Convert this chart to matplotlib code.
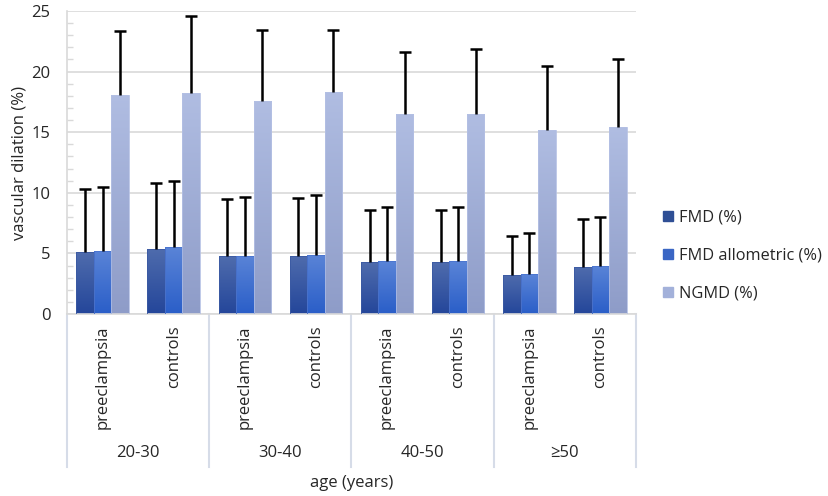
import numpy as np
import matplotlib
matplotlib.use("Agg")
import matplotlib.pyplot as plt
from matplotlib.colors import LinearSegmentedColormap
from matplotlib.transforms import blended_transform_factory
from matplotlib.patches import Patch

plt.rcParams['font.family'] = ['Open Sans', 'DejaVu Sans']

groups = ["20-30", "30-40", "40-50", "\u226550"]
subcats = ["preeclampsia", "controls"]
series = ["FMD (%)", "FMD allometric (%)", "NGMD (%)"]

fmd = [5.1, 5.4, 4.75, 4.8, 4.25, 4.25, 3.25, 3.9]
fmd_err = [5.2, 5.4, 4.7, 4.8, 4.35, 4.35, 3.2, 3.95]
fmd_allo = [5.2, 5.5, 4.8, 4.9, 4.35, 4.35, 3.3, 4.0]
fmd_allo_err = [5.3, 5.5, 4.85, 4.95, 4.5, 4.5, 3.35, 4.0]
ngmd = [18.1, 18.2, 17.6, 18.3, 16.5, 16.5, 15.2, 15.45]
ngmd_err = [5.25, 6.4, 5.8, 5.1, 5.15, 5.4, 5.3, 5.55]

values = [fmd, fmd_allo, ngmd]
errors = [fmd_err, fmd_allo_err, ngmd_err]
grad = [("#24469a", "#4f6cad"), ("#2a5ec8", "#5a84d7"), ("#8e9cc8", "#b0bde2")]
legend_cols = ["#2f4f95", "#3a66c4", "#a3b1da"]
edge_cols = ["#3b5aa3", "#4a74d0", "#b4c0e4"]

fig = plt.figure(figsize=(8.29, 4.96), dpi=100)
ax = fig.add_axes([67/829, 1-314/496, (636-67)/829, (314-11)/496])

n = len(fmd)
x = np.arange(n)
w = 0.246
txt = "#262626"
gridc = "#d9d9d9"

for i, (vals, errs) in enumerate(zip(values, errors)):
    pos = x + (i - 1) * w
    vals = np.array(vals)
    errs = np.array(errs)
    bars = ax.bar(pos, vals, width=w, facecolor="none", edgecolor=edge_cols[i],
                  linewidth=0.6, zorder=3, label=series[i])
    cmap = LinearSegmentedColormap.from_list("g%d" % i, [grad[i][0], grad[i][1]])
    g = np.linspace(0, 1, 256).reshape(-1, 1)
    for b in bars:
        x0, y0 = b.get_x(), b.get_y()
        im = ax.imshow(g, extent=[x0, x0 + b.get_width(), y0, y0 + b.get_height()],
                       origin="lower", cmap=cmap, aspect="auto", zorder=2.5,
                       interpolation="bilinear")
        im.set_clip_path(b)
    ax.vlines(pos, vals, vals + errs, color="black", linewidth=1.8, zorder=4)
    ax.plot(pos, vals + errs, linestyle="none", marker="_", markersize=8,
            markeredgewidth=1.8, color="black", zorder=4)

ax.set_xlim(-0.5, n - 0.5)
ax.set_ylim(0, 25)
ax.set_yticks(range(0, 26, 5))
ax.set_yticks(range(0, 26, 1), minor=True)
ax.yaxis.grid(True, which="major", color=gridc, linewidth=1.2, zorder=0)
ax.set_axisbelow(True)
ax.tick_params(axis="y", which="major", length=0, pad=12, labelsize=12, labelcolor=txt)
ax.tick_params(axis="y", which="minor", length=4, direction="in", color=gridc, width=1)
ax.tick_params(axis="x", length=0, pad=8, labelsize=12, labelcolor=txt)
ax.set_xticks(x)
ax.set_xticklabels(subcats * len(groups), rotation=90, va="top", ha="center")

for s in ["top", "right"]:
    ax.spines[s].set_visible(False)
ax.spines["left"].set_color(gridc)
ax.spines["bottom"].set_color(gridc)
ax.spines["left"].set_linewidth(1.2)
ax.spines["bottom"].set_linewidth(1.2)

trans = blended_transform_factory(ax.transData, ax.transAxes)
ybot = (314 - 467) / (314 - 11)
sepc = "#d6dce8"
for xb in np.arange(-0.5, n, 2):
    ax.plot([xb, xb], [0, ybot], transform=trans, color=sepc, lw=1.5, clip_on=False)
ygrp = (314 - 453) / (314 - 11)
for j, gname in enumerate(groups):
    ax.text(2 * j + 0.5, ygrp, gname, transform=trans, ha="center", va="center",
            fontsize=12, color=txt)

ax.text(0.5, (314 - 483) / (314 - 11), "age (years)", transform=ax.transAxes,
        ha="center", va="center", fontsize=12, color=txt)
ax.set_ylabel("vascular dilation (%)", fontsize=12, color=txt)
ax.yaxis.set_label_coords((28 - 67) / (636 - 67), 0.5)

handles = [Patch(facecolor=c, edgecolor=c) for c in legend_cols]
leg = fig.legend(handles, series, loc="upper left", bbox_to_anchor=(648/829, 1 - 195/496),
                 frameon=False, fontsize=11.8, handlelength=0.6, handleheight=0.6,
                 handletextpad=0.4, labelspacing=1.35, labelcolor=txt)

fig.savefig("out.png", dpi=100)
